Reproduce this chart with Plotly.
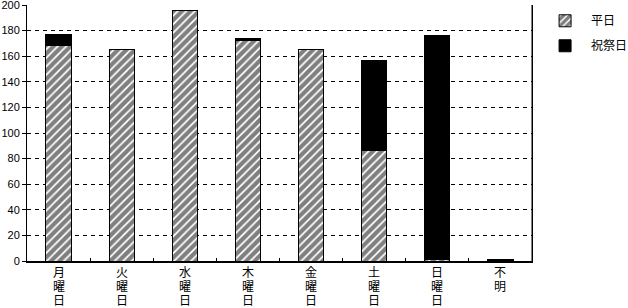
import plotly.graph_objects as go

categories = ["月曜日", "火曜日", "水曜日", "木曜日", "金曜日", "土曜日", "日曜日", "不明"]
weekday = [168, 165, 196, 172, 165, 86, 1, 0]
holiday = [9, 0, 0, 2, 0, 71, 175, 1]
y_ticks = [0, 20, 40, 60, 80, 100, 120, 140, 160, 180, 200]

FONT = "Liberation Sans, Noto Sans CJK JP"

fig = go.Figure()
fig.add_trace(go.Bar(
    x=categories, y=weekday, name="平日", legendgroup="a",
    marker=dict(color="white",
                pattern=dict(shape="/", fgcolor="black", bgcolor="white", size=6, solidity=0.7),
                line=dict(color="black", width=1)),
))
fig.add_trace(go.Bar(
    x=categories, y=holiday, name="祝祭日", legendgroup="b",
    marker=dict(color="black", line=dict(color="black", width=1)),
))

# vertical category labels (one character per line)
for cat in categories:
    for i, ch in enumerate(cat):
        fig.add_annotation(x=cat, y=0, xref="x", yref="y", text=ch, showarrow=False,
                           yanchor="middle", yshift=-12 - 14 * i, borderpad=0,
                           font=dict(size=12, family=FONT, color="black"))

fig.update_layout(
    width=628, height=308,
    barmode="stack", bargap=0.6,
    margin=dict(l=27, r=96, t=5, b=47, autoexpand=False),
    paper_bgcolor="white", plot_bgcolor="white",
    font=dict(family=FONT, size=11, color="black"),
    legend=dict(x=0.014 + 1, y=0.995, xanchor="left", yanchor="top", itemwidth=42,
                font=dict(size=12, family=FONT), tracegroupgap=6, traceorder="grouped"),
    showlegend=True,
)
fig.update_yaxes(range=[0, 200], tickvals=y_ticks, showgrid=True, gridcolor="black",
                 gridwidth=1, griddash="4px,4px", zeroline=False, automargin=False,
                 ticklabeloverflow="allow",
                 showline=True, linecolor="black", linewidth=1, mirror=True,
                 ticks="outside", ticklen=4, tickcolor="black",
                 tickfont=dict(size=11, family=FONT))
fig.update_xaxes(showline=True, linecolor="black", linewidth=2, mirror=False, automargin=False,
                 ticks="inside", tickson="boundaries", ticklen=3, tickcolor="black",
                 showticklabels=False)
# right border
fig.add_shape(type="line", xref="paper", yref="paper", x0=1, x1=1, y0=0, y1=1,
              line=dict(color="black", width=1))

fig.write_html("out.html")
